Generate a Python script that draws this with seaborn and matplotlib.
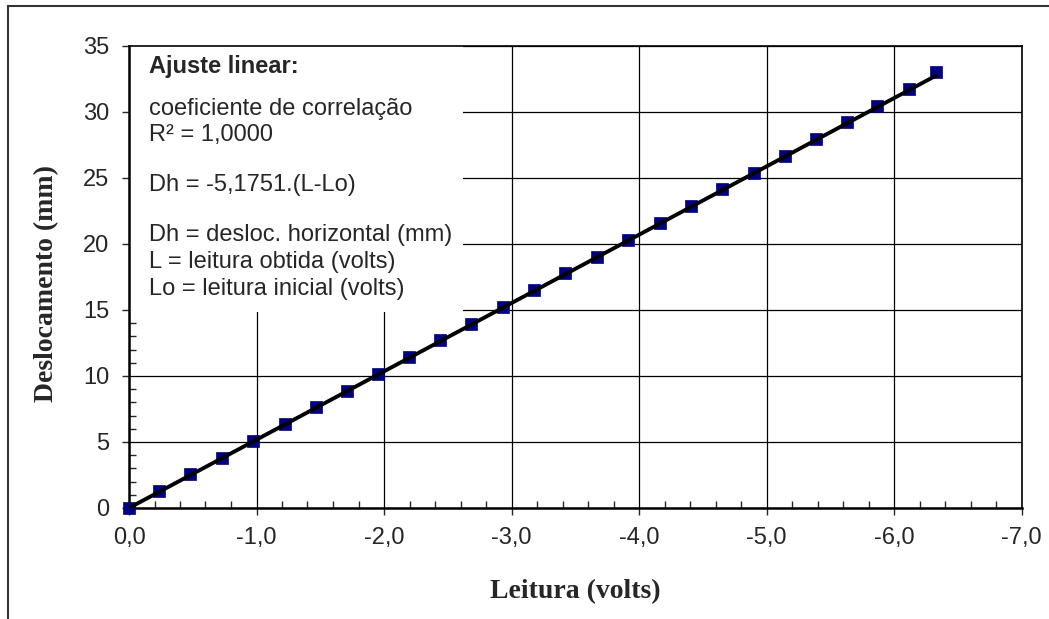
import numpy as np
import pandas as pd
import matplotlib
matplotlib.use("Agg")
import matplotlib.pyplot as plt
from matplotlib.patches import Rectangle
from matplotlib.ticker import MultipleLocator, FuncFormatter
import seaborn as sns

# ---- data ----
leitura = [0.0, -0.235, -0.481, -0.729, -0.972, -1.223, -1.469, -1.712, -1.950,
           -2.196, -2.440, -2.686, -2.934, -3.176, -3.423, -3.669, -3.916, -4.162,
           -4.406, -4.653, -4.900, -5.147, -5.391, -5.635, -5.868, -6.114, -6.333]
deslocamento = [0.00, 1.27, 2.54, 3.81, 5.08, 6.35, 7.62, 8.89, 10.16, 11.43,
                12.70, 13.97, 15.24, 16.51, 17.78, 19.05, 20.32, 21.59, 22.86,
                24.13, 25.40, 26.67, 27.94, 29.21, 30.48, 31.75, 33.02]
slope = -5.1751
x_ticks = [0, -1, -2, -3, -4, -5, -6, -7]
y_ticks = [0, 5, 10, 15, 20, 25, 30, 35]
annot_lines = ["Ajuste linear:", "coeficiente de correlação", "R² = 1,0000",
               "Dh = -5,1751.(L-Lo)", "Dh = desloc. horizontal (mm)",
               "L = leitura obtida (volts)", "Lo = leitura inicial (volts)"]

df = pd.DataFrame({"Leitura": leitura, "Deslocamento": deslocamento})
fit_x = np.array([max(leitura), min(leitura)])
fit = pd.DataFrame({"x": fit_x, "y": slope * fit_x})

sns.set_style("white")
plt.rcParams["font.family"] = ["Liberation Sans", "DejaVu Sans"]

W, H = 1049, 619
AX_L, AX_R, AX_T, AX_B = 129, 1021.5, 46, 508
fig = plt.figure(figsize=(W / 100, H / 100), dpi=100)
ax = fig.add_axes([AX_L / W, 1 - AX_B / H, (AX_R - AX_L) / W, (AX_B - AX_T) / H])

# outer border
fig.patches.append(Rectangle((8 / W, -0.2), 1.2, 1 - 6 / H + 0.2,
                             transform=fig.transFigure, fill=False,
                             edgecolor="#333333", linewidth=1.5))

sns.scatterplot(data=df, x="Leitura", y="Deslocamento", ax=ax, marker="s",
                s=64, color="#000080", edgecolor="#000080", linewidth=0.5,
                zorder=3, legend=False, clip_on=False)
sns.lineplot(data=fit, x="x", y="y", ax=ax, color="black", linewidth=2.8,
             zorder=4, legend=False)

ax.set_xlim(0, -7)
ax.set_ylim(0, 35)
ax.set_xticks(x_ticks)
ax.set_yticks(y_ticks)
ax.xaxis.set_minor_locator(MultipleLocator(0.2))
ax.yaxis.set_minor_locator(MultipleLocator(1))
ax.xaxis.set_major_formatter(FuncFormatter(
    lambda v, p: f"{v:.1f}".replace(".", ",").replace("-0,0", "0,0")))
ax.grid(True, which="major", color="black", linewidth=0.9)
ax.set_axisbelow(True)

ax.tick_params(which="major", direction="out", length=5, width=1, labelsize=17,
               bottom=True, left=True)
ax.tick_params(axis="x", which="major", pad=9)
ax.tick_params(axis="y", which="major", pad=9)
ax.tick_params(which="minor", direction="in", length=5, width=1,
               bottom=True, left=True)
for lab in ax.get_xticklabels() + ax.get_yticklabels():
    lab.set_fontfamily("Liberation Sans")

for side in ["left", "bottom"]:
    ax.spines[side].set_linewidth(1.8)
    ax.spines[side].set_color("black")
for side in ["top", "right"]:
    ax.spines[side].set_linewidth(1.2)
    ax.spines[side].set_color("black")

ax.set_xlabel("Leitura (volts)", fontfamily="Liberation Serif", fontweight="bold",
              fontsize=20)
ax.set_ylabel("Deslocamento (mm)", fontfamily="Liberation Serif", fontweight="bold",
              fontsize=20)
ax.xaxis.label.set_va("center")
ax.xaxis.set_label_coords((575 - AX_L) / (AX_R - AX_L), (AX_B - 592) / (AX_B - AX_T))
ax.yaxis.label.set_va("center")
ax.yaxis.label.set_ha("center")
ax.yaxis.set_label_coords((47 - AX_L) / (AX_R - AX_L), (AX_B - 284) / (AX_B - AX_T))

# white box behind the annotation
ax.add_patch(Rectangle((0, 1 - (312 - AX_T) / (AX_B - AX_T)), (463 - AX_L) / (AX_R - AX_L),
                       (312 - AX_T) / (AX_B - AX_T) + 0.01, transform=ax.transAxes,
                       facecolor="white", edgecolor="none", zorder=1.5))

ys = [67, 109, 135, 185, 235, 262, 289]
for i, (txt, yp) in enumerate(zip(annot_lines, ys)):
    fig.text(149 / W, 1 - yp / H, txt, ha="left", va="center", fontsize=17,
             fontweight="bold" if i == 0 else "normal",
             fontfamily="Liberation Sans", zorder=5)

fig.savefig("out.png", dpi=100)
